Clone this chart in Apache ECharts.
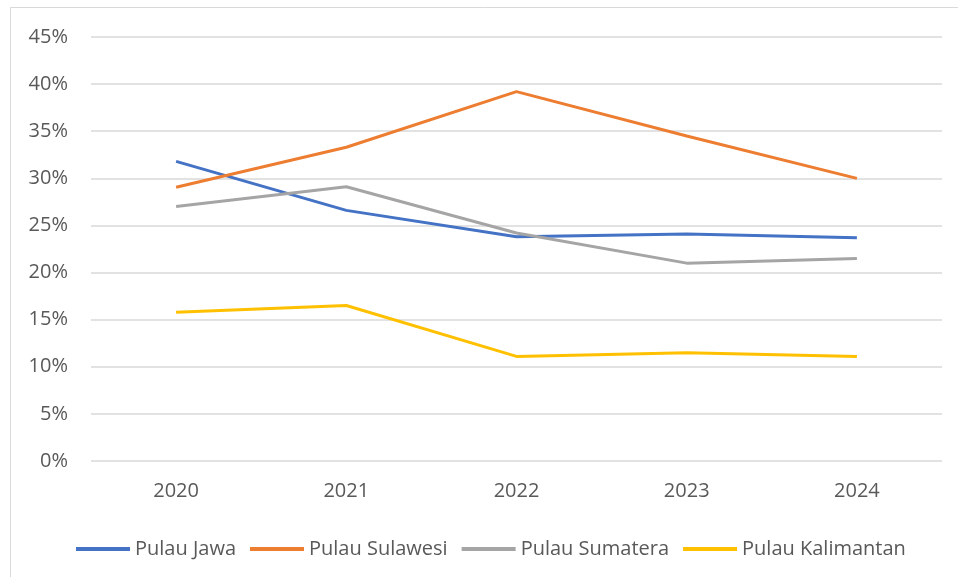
<!DOCTYPE html>
<html>
<head>
<meta charset="utf-8">
<script src="https://cdn.jsdelivr.net/npm/echarts@6/dist/echarts.min.js"></script>
<style>
  html, body { margin: 0; padding: 0; background: #fff; }
  #main { width: 958px; height: 577px; }
</style>
</head>
<body>
<div id="main"></div>
<script>
// data
var years = ['2020', '2021', '2022', '2023', '2024'];
var jawa = [31.8, 26.6, 23.8, 24.1, 23.7];
var sulawesi = [29.05, 33.3, 39.2, 34.5, 30.0];
var sumatera = [27.0, 29.1, 24.2, 21.0, 21.5];
var kalimantan = [15.8, 16.5, 11.1, 11.5, 11.1];

var myChart = echarts.init(document.getElementById('main'));

var font = '"Open Sans", Lato, sans-serif';

function line(name, data, color) {
    return {
        name: name,
        type: 'line',
        data: data,
        showSymbol: false,
        symbol: 'none',
        lineStyle: { color: color, width: 3 },
        itemStyle: { color: color }
    };
}

var option = {
    backgroundColor: '#fff',
    animation: false,
    textStyle: { fontFamily: font },
    graphic: [{
        type: 'rect',
        shape: { x: 10.5, y: 7.5, width: 1000, height: 1000 },
        style: { fill: 'none', stroke: '#d9d9d9', lineWidth: 1 },
        silent: true
    }],
    grid: {
        left: 91,
        right: 16,
        top: 37,
        bottom: 116
    },
    xAxis: {
        type: 'category',
        data: years,
        boundaryGap: true,
        axisLine: { show: false },
        axisTick: { show: false },
        axisLabel: { color: '#595959', fontSize: 20, margin: 20, fontFamily: font }
    },
    yAxis: {
        type: 'value',
        min: 0,
        max: 45,
        interval: 5,
        axisLine: { show: false },
        axisTick: { show: false },
        axisLabel: {
            color: '#595959', fontSize: 20, margin: 23, fontFamily: font,
            formatter: '{value}%'
        },
        splitLine: { lineStyle: { color: '#d9d9d9', width: 1.5 } }
    },
    legend: {
        left: 71,
        top: 534,
        icon: 'rect',
        itemWidth: 54,
        itemHeight: 4,
        itemGap: 14,
        textStyle: { color: '#595959', fontSize: 20, fontFamily: font },
        data: ['Pulau Jawa', 'Pulau Sulawesi', 'Pulau Sumatera', 'Pulau Kalimantan']
    },
    series: [
        line('Pulau Jawa', jawa, '#4472C4'),
        line('Pulau Sulawesi', sulawesi, '#ED7D31'),
        line('Pulau Sumatera', sumatera, '#A5A5A5'),
        line('Pulau Kalimantan', kalimantan, '#FFC000')
    ]
};

myChart.setOption(option);

window.addEventListener('resize', function () {
    myChart.resize();
});
</script>
</body>
</html>
